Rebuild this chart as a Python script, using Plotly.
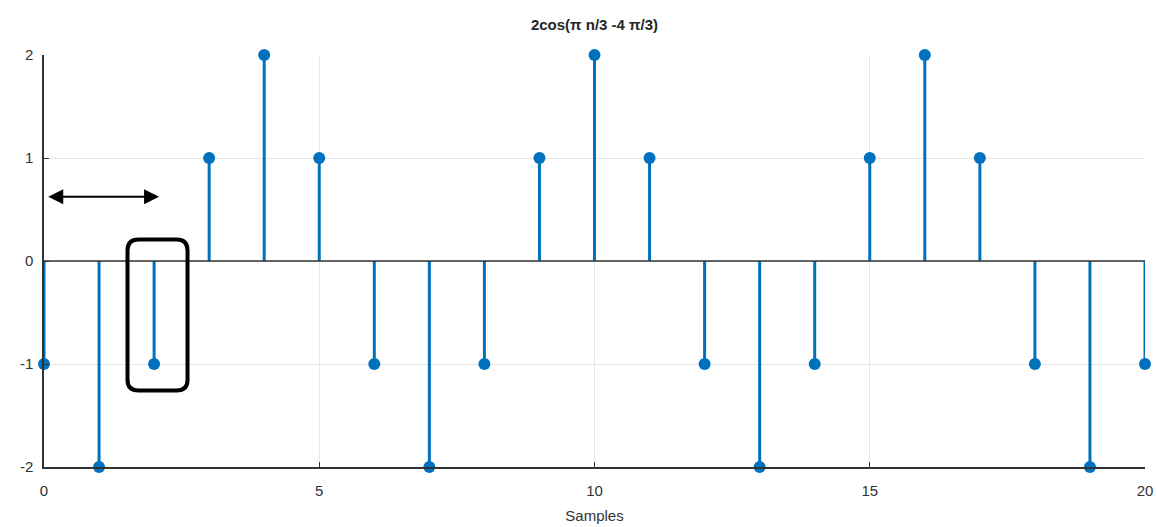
import plotly.graph_objects as go

samples = list(range(0, 21))
values = [-1, -2, -1, 1, 2, 1, -1, -2, -1, 1, 2, 1, -1, -2, -1, 1, 2, 1, -1, -2, -1]
x_ticks = [0, 5, 10, 15, 20]
x_tick_labels = ["0", "5", "10", "15", "20"]
y_ticks = [-2, -1, 0, 1, 2]
y_tick_labels = ["-2", "-1", "0", "1", "2"]
title_text = "2cos(\u03c0 n/3 -4 \u03c0/3)"
x_label = "Samples"

blue = "#0072BD"

stem_x, stem_y = [], []
for n, v in zip(samples, values):
    stem_x += [n, n, None]
    stem_y += [0, v, None]

fig = go.Figure()
fig.add_trace(go.Scatter(x=stem_x, y=stem_y, mode="lines",
                         line=dict(color=blue, width=3), hoverinfo="skip",
                         showlegend=False, cliponaxis=False))
fig.add_trace(go.Scatter(x=samples, y=values, mode="markers",
                         marker=dict(color=blue, size=12), showlegend=False,
                         cliponaxis=False))

# baseline at 0
fig.add_shape(type="line", x0=0, x1=20, y0=0, y1=0, xref="x", yref="y",
              line=dict(color="#333333", width=1.5), layer="above")

# double-headed arrow
fig.add_annotation(x=2.09, y=0.624, ax=0.05, ay=0.624, xref="x", yref="y",
                   axref="x", ayref="y", text="", showarrow=True,
                   arrowhead=2, startarrowhead=2, arrowside="end+start",
                   arrowsize=1.5, startarrowsize=1.5, arrowwidth=2,
                   arrowcolor="black")

# rounded rectangle around sample 2
x0, x1, y0, y1 = 1.517, 2.607, -1.257, 0.209
rx, ry = 0.2, 0.105
path = (f"M {x0+rx},{y1} L {x1-rx},{y1} Q {x1},{y1} {x1},{y1-ry} "
        f"L {x1},{y0+ry} Q {x1},{y0} {x1-rx},{y0} "
        f"L {x0+rx},{y0} Q {x0},{y0} {x0},{y0+ry} "
        f"L {x0},{y1-ry} Q {x0},{y1} {x0+rx},{y1} Z")
fig.add_shape(type="path", path=path, xref="x", yref="y",
              line=dict(color="black", width=4), layer="above")

font_family = "Liberation Sans, Arial, Helvetica, sans-serif"

W, H = 1157, 527

fig.update_layout(
    width=W, height=H,
    margin=dict(l=44, r=12, t=55, b=60, autoexpand=False),
    plot_bgcolor="white", paper_bgcolor="white",
    font=dict(family=font_family, size=15, color="#262626"),
    title=dict(text=f"<b>{title_text}</b>", x=(44 + 1145) / 2 / W,
               xanchor="center", y=1 - 25 / H, yanchor="middle",
               automargin=False, font=dict(size=15, color="#262626")),
    xaxis=dict(range=[0, 20], tickvals=x_ticks, ticktext=x_tick_labels,
               showgrid=True, automargin=False,
               gridcolor="#E6E6E6", gridwidth=1, zeroline=False,
               showline=True, linecolor="#333333", linewidth=1.5,
               ticks="inside", ticklen=5, tickcolor="#333333",
               ticklabelstandoff=9,
               tickfont=dict(size=15, color="#333333"),
               title=dict(text=x_label, font=dict(size=15, color="#333333"),
                          standoff=13)),
    yaxis=dict(range=[-2, 2], tickvals=y_ticks, ticktext=y_tick_labels,
               showgrid=True, automargin=False,
               gridcolor="#E6E6E6", gridwidth=1, zeroline=False,
               showline=True, linecolor="#333333", linewidth=1.5,
               ticks="inside", ticklen=5, tickcolor="#333333",
               ticklabelstandoff=6,
               tickfont=dict(size=15, color="#333333")),
)

fig.write_html(
    "out.html",
    config={"displayModeBar": False},
    post_script="document.body.style.margin='0';document.body.style.overflow='hidden';",
)
